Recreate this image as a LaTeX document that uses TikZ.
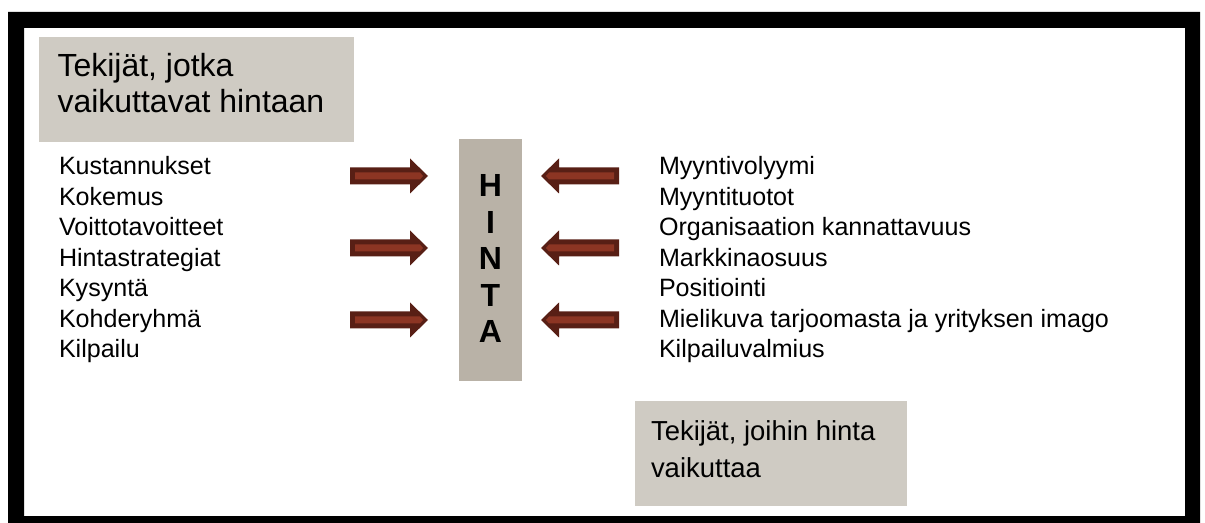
\documentclass[tikz,border=0pt]{standalone}
\usepackage{fontspec}
\setmainfont{Liberation Sans}
\begin{document}
\begin{tikzpicture}[x=0.75pt,y=-0.75pt,
  every node/.style={inner sep=0pt, outer sep=0pt},
  listitem/.style={anchor=base west, font=\fontsize{18.8}{22}\selectfont},
  bigtitle/.style={anchor=base west, font=\fontsize{24}{28}\selectfont},
  smalltitle/.style={anchor=base west, font=\fontsize{20.6}{24}\selectfont},
  pricechar/.style={anchor=base, font=\fontsize{24}{28}\selectfont\bfseries},
  labelbg/.style={fill=labelgray},
  arrowedge/.style={fill=arrowdark},
  arrowcore/.style={fill=arrowlight},
  pricearrow/.pic={
    \fill[arrowedge] (0,-8.5) -- (60,-8.5) -- (60,-17.5) -- (78,0) -- (60,17.5) -- (60,8.5) -- (0,8.5) -- cycle;
    \fill[arrowcore] (5,-3.5) -- (70,-3.5) -- (73,0) -- (70,3.5) -- (5,3.5) -- cycle;
  }
]
\definecolor{labelgray}{HTML}{CFCBC3}
\definecolor{pricegray}{HTML}{B9B2A7}
\definecolor{arrowdark}{HTML}{581F15}
\definecolor{arrowlight}{HTML}{8C3523}

\useasboundingbox (0,0) rectangle (1205,523);

% thick black frame
\fill[black, even odd rule] (8,12) rectangle (1200,523) (24,28) rectangle (1185,516);

% heading: factors affecting the price
\fill[labelbg] (39,37) rectangle (354,142);
\node[bigtitle] (affectA) at (57.5,77) {Tekijät, jotka};
\node[bigtitle] (affectB) at (57.5,113) {vaikuttavat hintaan};

% heading: factors affected by the price
\fill[labelbg] (635,401) rectangle (907,506);
\node[smalltitle] (affectedA) at (651,440) {Tekijät, joihin hinta};
\node[smalltitle] (affectedB) at (651,477) {vaikuttaa};

% central price column
\fill[pricegray] (459,139) rectangle (522,381);
\foreach \ch [count=\i] in {H,I,N,T,A}
  \node[pricechar] (price\i) at (490.5,{197+36.5*(\i-1)}) {\ch};

% left list
\foreach \txt [count=\i] in {Kustannukset,Kokemus,Voittotavoitteet,Hintastrategiat,Kysyntä,Kohderyhmä,Kilpailu}
  \node[listitem] (left\i) at (59,{175+30.5*(\i-1)}) {\txt};

% right list
\foreach \txt [count=\i] in {Myyntivolyymi,Myyntituotot,Organisaation kannattavuus,Markkinaosuus,Positiointi,Mielikuva tarjoomasta ja yrityksen imago,Kilpailuvalmius}
  \node[listitem] (right\i) at (659,{175+30.5*(\i-1)}) {\txt};

% arrows towards the price column
\foreach \yc in {176,248,320} {
  \pic at (350,\yc) {pricearrow};
  \pic[xscale=-1] at (619,\yc) {pricearrow};
}
\end{tikzpicture}
\end{document}
